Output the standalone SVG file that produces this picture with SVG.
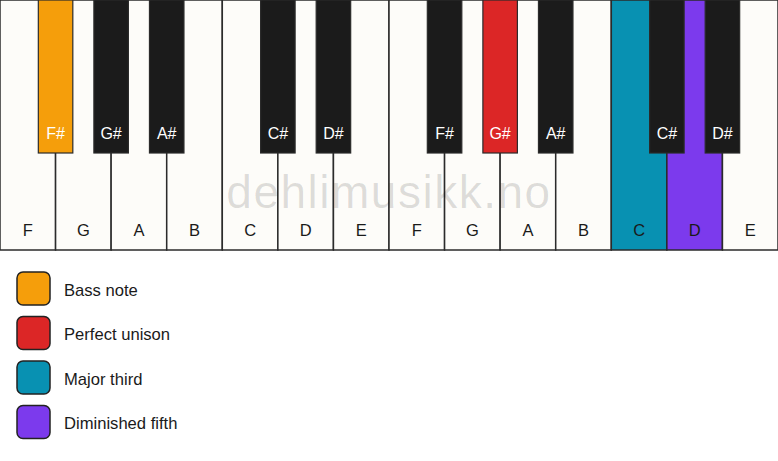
<svg xmlns="http://www.w3.org/2000/svg" width="778" height="461" viewBox="0 0 778 461">
<style>
.w{fill:#fdfcf9;stroke:#2b2b2b;stroke-width:1.5}
.b{fill:#1b1b1b;stroke:#2b2b2b;stroke-width:1.2}
.wl{font-family:"Liberation Sans",Arial,sans-serif;font-size:16.5px;fill:#1a1a1a;text-anchor:middle}
.bl{font-family:"Liberation Sans",Arial,sans-serif;font-size:16px;fill:#ffffff;text-anchor:middle}
.lg{font-family:"Liberation Sans",Arial,sans-serif;font-size:16.6px;fill:#1a1a1a}
.sw{stroke:#222;stroke-width:1.5}
.wm{font-family:"Liberation Sans",Arial,sans-serif;font-size:46px;fill:#000;fill-opacity:0.13;text-anchor:middle;letter-spacing:1.5px}
</style>
<rect width="778" height="461" fill="#ffffff"/>
<g id="white-keys">
<g id="wk-F1"><rect class="w" x="0" y="0" width="55.57" height="250"/><text class="wl" x="27.8" y="236">F</text></g>
<g id="wk-G1"><rect class="w" x="55.57" y="0" width="55.57" height="250"/><text class="wl" x="83.4" y="236">G</text></g>
<g id="wk-A1"><rect class="w" x="111.14" y="0" width="55.57" height="250"/><text class="wl" x="138.9" y="236">A</text></g>
<g id="wk-B1"><rect class="w" x="166.71" y="0" width="55.57" height="250"/><text class="wl" x="194.5" y="236">B</text></g>
<g id="wk-C1"><rect class="w" x="222.29" y="0" width="55.57" height="250"/><text class="wl" x="250.1" y="236">C</text></g>
<g id="wk-D1"><rect class="w" x="277.86" y="0" width="55.57" height="250"/><text class="wl" x="305.6" y="236">D</text></g>
<g id="wk-E1"><rect class="w" x="333.43" y="0" width="55.57" height="250"/><text class="wl" x="361.2" y="236">E</text></g>
<g id="wk-F2"><rect class="w" x="389" y="0" width="55.57" height="250"/><text class="wl" x="416.8" y="236">F</text></g>
<g id="wk-G2"><rect class="w" x="444.57" y="0" width="55.57" height="250"/><text class="wl" x="472.4" y="236">G</text></g>
<g id="wk-A2"><rect class="w" x="500.14" y="0" width="55.57" height="250"/><text class="wl" x="527.9" y="236">A</text></g>
<g id="wk-B2"><rect class="w" x="555.71" y="0" width="55.57" height="250"/><text class="wl" x="583.5" y="236">B</text></g>
<g id="wk-C2"><rect class="w" x="611.29" y="0" width="55.57" height="250" style="fill:#0891b2"/><text class="wl" x="639.1" y="236">C</text></g>
<g id="wk-D2"><rect class="w" x="666.86" y="0" width="55.57" height="250" style="fill:#7c3aed"/><text class="wl" x="694.6" y="236">D</text></g>
<g id="wk-E2"><rect class="w" x="722.43" y="0" width="55.57" height="250"/><text class="wl" x="750.2" y="236">E</text></g>
</g>
<text class="wm" x="389" y="208">dehlimusikk.no</text>
<g id="black-keys">
<g id="bk-Fs1"><rect class="b" x="38.32" y="0" width="34.5" height="153" style="fill:#f59e0b"/><text class="bl" x="55.6" y="138.5">F#</text></g>
<g id="bk-Gs1"><rect class="b" x="93.89" y="0" width="34.5" height="153"/><text class="bl" x="111.1" y="138.5">G#</text></g>
<g id="bk-As1"><rect class="b" x="149.46" y="0" width="34.5" height="153"/><text class="bl" x="166.7" y="138.5">A#</text></g>
<g id="bk-Cs1"><rect class="b" x="260.61" y="0" width="34.5" height="153"/><text class="bl" x="277.9" y="138.5">C#</text></g>
<g id="bk-Ds1"><rect class="b" x="316.18" y="0" width="34.5" height="153"/><text class="bl" x="333.4" y="138.5">D#</text></g>
<g id="bk-Fs2"><rect class="b" x="427.32" y="0" width="34.5" height="153"/><text class="bl" x="444.6" y="138.5">F#</text></g>
<g id="bk-Gs2"><rect class="b" x="482.89" y="0" width="34.5" height="153" style="fill:#dc2626"/><text class="bl" x="500.1" y="138.5">G#</text></g>
<g id="bk-As2"><rect class="b" x="538.46" y="0" width="34.5" height="153"/><text class="bl" x="555.7" y="138.5">A#</text></g>
<g id="bk-Cs2"><rect class="b" x="649.61" y="0" width="34.5" height="153"/><text class="bl" x="666.9" y="138.5">C#</text></g>
<g id="bk-Ds2"><rect class="b" x="705.18" y="0" width="34.5" height="153"/><text class="bl" x="722.4" y="138.5">D#</text></g>
</g>
<g id="connectors"></g>
<g id="legend">
<g id="lg-bass"><rect class="sw" x="17" y="272" width="33" height="33" rx="6" fill="#f59e0b"/><text class="lg" x="64" y="295.5">Bass note</text></g>
<g id="lg-unison"><rect class="sw" x="17" y="316.5" width="33" height="33" rx="6" fill="#dc2626"/><text class="lg" x="64" y="340">Perfect unison</text></g>
<g id="lg-third"><rect class="sw" x="17" y="361" width="33" height="33" rx="6" fill="#0891b2"/><text class="lg" x="64" y="384.5">Major third</text></g>
<g id="lg-fifth"><rect class="sw" x="17" y="405.5" width="33" height="33" rx="6" fill="#7c3aed"/><text class="lg" x="64" y="429">Diminished fifth</text></g>
</g>
</svg>
